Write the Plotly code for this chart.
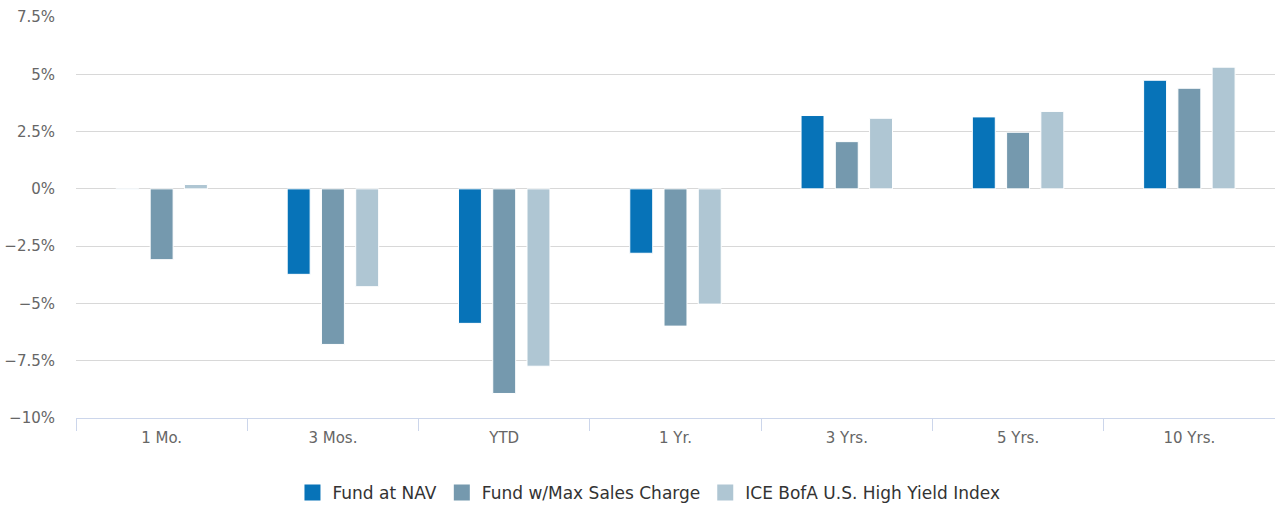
import plotly.graph_objects as go

categories = ["1 Mo.", "3 Mos.", "YTD", "1 Yr.", "3 Yrs.", "5 Yrs.", "10 Yrs."]
fund_nav = [-0.01, -3.73, -5.87, -2.81, 3.20, 3.14, 4.74]
fund_max = [-3.09, -6.79, -8.93, -5.99, 2.06, 2.47, 4.39]
index_vals = [0.19, -4.27, -7.74, -5.03, 3.08, 3.38, 5.31]
series_names = ["Fund at NAV", "Fund w/Max Sales Charge", "ICE BofA U.S. High Yield Index"]
colors = ["#0773b8", "#7599ae", "#afc6d3"]
y_tickvals = [7.5, 5, 2.5, 0, -2.5, -5, -7.5, -10]
y_ticktext = ["7.5%", "5%", "2.5%", "0%", "\u22122.5%", "\u22125%", "\u22127.5%", "\u221210%"]

FONT = "DejaVu Sans"
fig = go.Figure()
for name, vals, c in zip(series_names, [fund_nav, fund_max, index_vals], colors):
    fig.add_trace(go.Bar(x=categories, y=vals, name=name, showlegend=False,
                         marker=dict(color=c, line=dict(color="white", width=1))))
for name, c in zip(series_names, colors):
    fig.add_trace(go.Scatter(x=[None], y=[None], mode="markers", name=name,
                             marker=dict(symbol="square", size=16, color=c)))

fig.update_layout(
    width=1275, height=506,
    margin=dict(l=76, r=0, t=17, b=88, autoexpand=False),
    paper_bgcolor="white", plot_bgcolor="white",
    barmode="group", bargap=0.4, bargroupgap=0.33,
    font=dict(family=FONT, color="#666666", size=15),
    showlegend=True,
    legend=dict(orientation="h", x=0.509, xref="container", xanchor="center",
                y=0.026, yref="container", yanchor="middle",
                font=dict(size=17, color="#333333", family=FONT), itemsizing="trace",
                bgcolor="rgba(0,0,0,0)"),
    xaxis=dict(type="category", showgrid=False, showline=True, linecolor="#ccd6eb", linewidth=1,
               ticks="outside", tickson="boundaries", ticklen=12, tickcolor="#ccd6eb",
               ticklabelstandoff=6,
               tickfont=dict(size=15, color="#666666"), fixedrange=True, automargin=False),
    yaxis=dict(range=[-10, 7.5], tickvals=y_tickvals, ticktext=y_ticktext,
               showgrid=True, gridcolor="#d8d8d8", gridwidth=1,
               zeroline=True, zerolinecolor="#d8d8d8", zerolinewidth=1,
               showline=False, ticklabelstandoff=20, automargin=False,
               tickfont=dict(size=15, color="#666666"), fixedrange=True),
)
fig.write_html("out.html", config={"displayModeBar": False},
               post_script="document.body.style.margin='0';document.body.style.overflow='hidden';")
